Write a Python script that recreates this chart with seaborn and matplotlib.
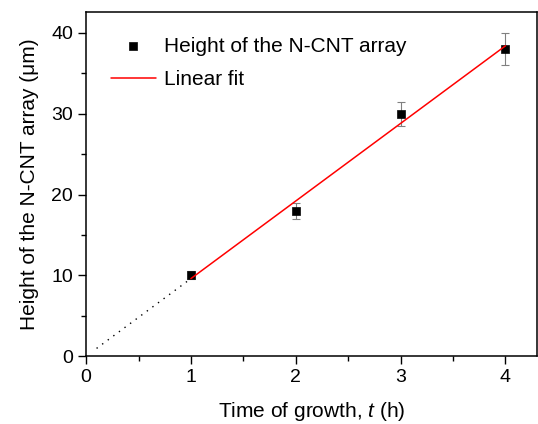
import numpy as np
import pandas as pd
import matplotlib
matplotlib.use("Agg")
import matplotlib.pyplot as plt
import seaborn as sns
from matplotlib.ticker import MultipleLocator

# Data
time_h = [1, 2, 3, 4]
height_um = [10, 18, 30, 38]
height_err = [0.5, 1.0, 1.5, 2.0]

df = pd.DataFrame({"time": time_h, "height": height_um, "err": height_err})

sns.set_style("ticks")
plt.rcParams["font.family"] = ["Liberation Sans", "DejaVu Sans"]
plt.rcParams["mathtext.fontset"] = "custom"
plt.rcParams["mathtext.it"] = "Liberation Sans:italic"
for key in ["text.color", "axes.labelcolor", "xtick.color", "ytick.color", "axes.edgecolor"]:
    plt.rcParams[key] = "black"

fig, ax = plt.subplots(figsize=(5.38, 4.24), dpi=100)
fig.subplots_adjust(left=0.16, right=0.998, top=0.972, bottom=0.16)

# Linear fit through the data
slope, intercept = np.polyfit(df["time"], df["height"], 1)
x_fit = np.linspace(1, 4, 50)
x_ext = np.linspace(0.1, 1, 20)

ax.errorbar(df["time"], df["height"], yerr=df["err"], fmt="none",
            ecolor="#808080", elinewidth=0.8, capsize=3, capthick=0.8, zorder=2)
sns.scatterplot(data=df, x="time", y="height", marker="s", color="black",
                s=36, edgecolor="black", ax=ax, zorder=3,
                label="Height of the N-CNT array")
sns.lineplot(x=x_fit, y=slope * x_fit + intercept, color="red", lw=1.1,
             ax=ax, zorder=4, label="Linear fit")
ax.plot(x_ext, slope * x_ext + intercept, color="black", lw=1.0,
        linestyle=(0, (1, 4)), zorder=1)

ax.set_xlim(0, 4.3)
ax.set_ylim(0, 42.6)
ax.xaxis.set_major_locator(MultipleLocator(1))
ax.xaxis.set_minor_locator(MultipleLocator(0.5))
ax.yaxis.set_major_locator(MultipleLocator(10))
ax.yaxis.set_minor_locator(MultipleLocator(5))
ax.tick_params(which="major", length=6, width=1, labelsize=14, direction="out")
ax.tick_params(which="minor", length=3.5, width=1, direction="out")
for sp in ax.spines.values():
    sp.set_linewidth(1.1)

ax.set_xlabel("Time of growth, $\\mathit{t}$ (h)", fontsize=15, labelpad=10)
ax.set_ylabel("Height of the N-CNT array (\u03bcm)", fontsize=15, labelpad=9)

ax.legend(loc="upper left", frameon=False, fontsize=15, handlelength=2.15,
          borderaxespad=0.8, labelspacing=0.7, handletextpad=0.4,
          bbox_to_anchor=(0.0, 1.0))

fig.savefig("out.png", dpi=100)
